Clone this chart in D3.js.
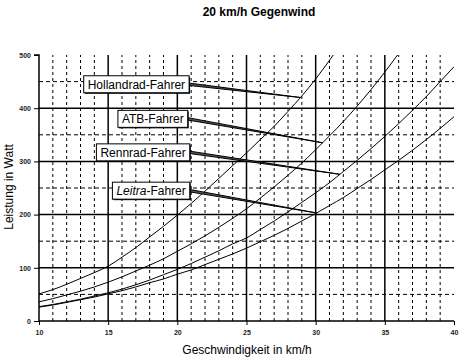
<!DOCTYPE html>
<html><head><meta charset="utf-8">
<script src="https://cdn.jsdelivr.net/npm/d3@7"></script>
<style>
html,body{margin:0;padding:0;background:#fff;}
svg{display:block;font-family:Arial,"Liberation Sans",sans-serif;}
</style></head>
<body>
<svg id="chart" width="464" height="361"></svg>
<script>
// ---- data ----
const speeds = [10,11,12,13,14,15,16,17,18,19,20,21,22,23,24,25,26,27,28,29,30,31,32,33,34,35,36,37,38,39,40];
const hollandrad = [51,59,69,80,91,103,120,138,158,178,199,221,244,268,292,316,341,366,394,423,455,490,527];
const atb = [36,42,49,56,64,73,83,94,105,117,131,145,160,176,193,211,231,252,274,297,322,348,375,404,435,468,503,540];
const rennrad = [27,31,36,41,47,53,60,68,77,87,97,108,120,132,145,156,172,188,205,223,241,260,281,302,324,347,371,396,422,450,478];
const leitra = [26,30,35,40,45,51,57,64,72,79,88,96,106,116,126,137,149,161,174,188,202,217,232,249,266,284,302,321,341,362,384];
const seriesNames = ["Hollandrad-Fahrer","ATB-Fahrer","Rennrad-Fahrer","Leitra-Fahrer"];
const xTicks = [10,15,20,25,30,35,40];
const yTicks = [0,100,200,300,400,500];
const xMinor = [11,12,13,14,16,17,18,19,21,22,23,24,26,27,28,29,31,32,33,34,36,37,38,39];
const yMinor = [50,150,250,350,450];
// callout annotations: box right edge speed, box centre watt, pointer tip speed
const calloutBoxSpeed = [20.85,20.75,20.9,20.9];
const calloutBoxWatt = [445,380,317,245];
const calloutTipSpeed = [28.9,30.5,31.75,30.07];

const title = "20 km/h Gegenwind";
const xTitle = "Geschwindigkeit in km/h";
const yTitle = "Leistung in Watt";

// ---- drawing ----
const svg = d3.select("#chart");
const x = d3.scaleLinear().domain([10,40]).range([39,454]);
const y = d3.scaleLinear().domain([0,500]).range([321,55]);

svg.append("defs").append("clipPath").attr("id","clip")
  .append("rect").attr("x",x(10)).attr("y",y(500)).attr("width",x(40)-x(10)).attr("height",y(0)-y(500));

const g = svg.append("g");
// minor grid
g.selectAll(".vmin").data(xMinor).join("line")
  .attr("x1",d=>x(d)).attr("x2",d=>x(d)).attr("y1",y(0)).attr("y2",y(500))
  .attr("stroke","#000").attr("stroke-width",1).attr("stroke-dasharray","3,3");
g.selectAll(".hmin").data(yMinor).join("line")
  .attr("x1",x(10)).attr("x2",x(40)).attr("y1",d=>y(d)).attr("y2",d=>y(d))
  .attr("stroke","#000").attr("stroke-width",1).attr("stroke-dasharray","4,3");
// major grid
g.selectAll(".vmaj").data(xTicks.filter(d=>d>10&&d<40)).join("line")
  .attr("x1",d=>x(d)).attr("x2",d=>x(d)).attr("y1",y(0)).attr("y2",y(500))
  .attr("stroke","#000").attr("stroke-width",1.5);
g.selectAll(".hmaj").data(yTicks.filter(d=>d>0&&d<500)).join("line")
  .attr("x1",x(10)).attr("x2",x(40)).attr("y1",d=>y(d)).attr("y2",d=>y(d))
  .attr("stroke","#000").attr("stroke-width",1.5);

// axes
const yAxis = d3.axisLeft(y).tickValues(yTicks).tickSize(5).tickPadding(3);
const xAxis = d3.axisBottom(x).tickValues(xTicks).tickSize(4).tickPadding(5);
const ya = svg.append("g").attr("transform",`translate(${x(10)},0)`).call(yAxis);
const xa = svg.append("g").attr("transform",`translate(0,${y(0)})`).call(xAxis);
[ya,xa].forEach(a=>{
  a.select(".domain").attr("stroke","#000").attr("stroke-width",1.5);
  a.selectAll(".tick line").attr("stroke","#000").attr("stroke-width",1);
  a.selectAll(".tick text").attr("font-size","7px").attr("font-weight","bold").attr("fill","#222")
   .attr("font-family","Arial, 'Liberation Sans', sans-serif");
});
ya.select(".domain").attr("d",`M-5,${y(500)}H0V${y(0)}`);
xa.select(".domain").attr("d",`M${x(10)},0H${x(40)}`);

// curves
const allSeries = [hollandrad, atb, rennrad, leitra];
const line = d3.line().x((d,i)=>x(speeds[i])).y(d=>y(d)).curve(d3.curveMonotoneX);
svg.append("g").attr("clip-path","url(#clip)")
  .selectAll("path").data(allSeries).join("path")
  .attr("d",line).attr("fill","none").attr("stroke","#000").attr("stroke-width",1);

// interpolation helper for pointer tips
function valueAt(arr, v){
  const i = Math.floor(v - speeds[0]);
  const t = v - speeds[i];
  return arr[i] + (arr[i+1]-arr[i])*t;
}

// callouts
const cg = svg.append("g");
seriesNames.forEach((name,k)=>{
  const rx = x(calloutBoxSpeed[k]);
  const cy = y(calloutBoxWatt[k]);
  const tipX = x(calloutTipSpeed[k]);
  const tipY = y(valueAt(allSeries[k], calloutTipSpeed[k]));
  cg.append("path")
    .attr("d",`M${rx},${cy-1.2}L${tipX},${tipY}L${rx},${cy+1.2}Z`)
    .attr("fill","#555").attr("stroke","#000").attr("stroke-width",1);
  const t = cg.append("text").attr("font-size","12px").attr("fill","#000")
    .attr("dominant-baseline","central");
  if(k===3){
    t.append("tspan").attr("font-style","italic").text("Leitra");
    t.append("tspan").text("-Fahrer");
  } else t.text(name);
  const w = t.node().getComputedTextLength();
  const bw = w + 8, bh = 17;
  const bx = rx - bw;
  cg.insert("rect", function(){return t.node();})
    .attr("x",bx+1).attr("y",cy-bh/2+1).attr("width",bw).attr("height",bh).attr("fill","#000");
  cg.insert("rect", function(){return t.node();})
    .attr("x",bx).attr("y",cy-bh/2).attr("width",bw).attr("height",bh)
    .attr("fill","#fff").attr("stroke","#000").attr("stroke-width",1);
  t.attr("x",bx+4).attr("y",cy+0.5);
});

// titles
svg.append("text").attr("x",259).attr("y",16).attr("text-anchor","middle")
  .attr("font-size","12px").attr("font-weight","bold").text(title);
svg.append("text").attr("x",247).attr("y",354).attr("text-anchor","middle")
  .attr("font-size","12px").text(xTitle);
svg.append("text").attr("transform","translate(13,187) rotate(-90)").attr("text-anchor","middle")
  .attr("font-size","12px").text(yTitle);
</script>
</body></html>
